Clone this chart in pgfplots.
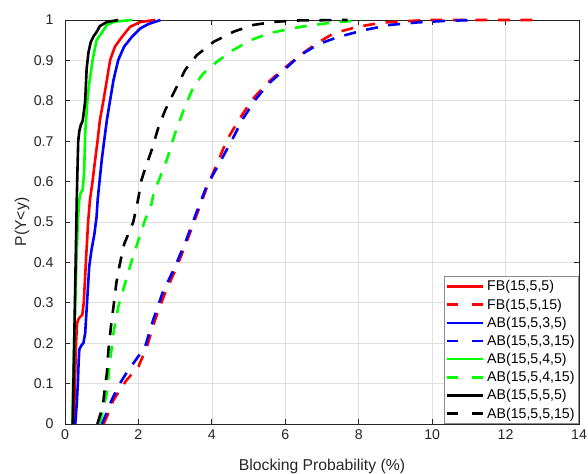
\documentclass[border=0pt]{standalone}
\usepackage{fontspec}
\setmainfont{Liberation Sans}
\usepackage{pgfplots}
\pgfplotsset{compat=1.18}
\definecolor{axgray}{HTML}{262626}
\definecolor{gridgray}{HTML}{DFDFDF}
\pgfplotsset{
  dleg/.style={legend image code/.code={\draw[##1,solid] (0bp,0bp)--(11bp,0bp); \draw[##1,solid] (25bp,0bp)--(36bp,0bp);}},
  sl/.style={line width=2.6bp, solid},
  dl/.style={line width=2.6bp, dash pattern=on 12bp off 10.5bp, dleg},
}
\begin{document}
\begin{tikzpicture}
\useasboundingbox (-65bp,-50bp) rectangle (523bp,424bp);
\begin{axis}[
  at={(0,0)}, anchor=south west,
  scale only axis, width=514bp, height=404bp,
  xmin=0, xmax=14, ymin=0, ymax=1,
  xtick={0,2,4,6,8,10,12,14},
  ytick={0,0.1,0.2,0.3,0.4,0.5,0.6,0.7,0.8,0.9,1},
  yticklabels={0,0.1,0.2,0.3,0.4,0.5,0.6,0.7,0.8,0.9,1},
  /pgf/number format/assume math mode=true,
  clip=false,
  grid=major,
  major grid style={draw=gridgray, line width=0.7bp},
  axis line style={draw=axgray, line width=0.8bp},
  tick align=inside,
  major tick length=5bp,
  tick style={draw=axgray, line width=0.8bp},
  ticklabel style={font=\fontsize{14.2}{16}\selectfont, text=axgray},
  xticklabel style={yshift=-2.3bp},
  yticklabel style={xshift=-8bp},
  every axis x label/.style={at={(rel axis cs:0.5,0)}, yshift=-42bp, anchor=center},
  every axis y label/.style={at={(rel axis cs:0,0.5)}, xshift=-43bp, rotate=90, anchor=center},
  label style={font=\fontsize{15.8}{18}\selectfont, text=axgray},
  xlabel={Blocking Probability (\%)},
  ylabel={P(Y<y)},
  legend style={at={(1,0)}, anchor=south east, draw=black!45, line width=0.6bp, fill=white,
    inner sep=1bp, font=\fontsize{14.2}{16}\selectfont, nodes={inner sep=3.2bp},
    cells={anchor=west}, row sep=0pt},
  legend image code/.code={\draw[#1] (0bp,0bp) -- (36bp,0bp);},
]
% FB(15,5,5)
\addplot[red, sl] coordinates {
(0.24,0) (0.27,0.1) (0.30,0.2) (0.33,0.25) (0.38,0.262) (0.47,0.27) (0.51,0.30) (0.54,0.35) (0.58,0.42) (0.63,0.50) (0.68,0.555) (0.75,0.60) (0.82,0.653) (0.89,0.703) (0.95,0.752) (1.05,0.802) (1.14,0.851) (1.23,0.901) (1.36,0.934) (1.55,0.958) (1.77,0.983) (2.05,0.995) (2.45,1)
};
\addlegendentry{FB(15,5,5)}
% FB(15,5,15)
\addplot[red, dl] coordinates {
(1.05,0) (1.15,0.02) (1.32,0.059) (1.50,0.085) (1.68,0.109) (2.0,0.142) (2.23,0.191) (2.45,0.257) (2.72,0.323) (3.05,0.39) (3.33,0.455) (3.6,0.521) (3.87,0.587) (4.18,0.653) (4.41,0.703) (4.73,0.752) (5.09,0.802) (5.5,0.843) (5.91,0.876) (6.41,0.913) (6.85,0.942) (7.32,0.967) (7.96,0.983) (8.6,0.993) (9.22,0.997) (9.96,1.0) (12.73,1.0)
};
\addlegendentry{FB(15,5,15)}
% AB(15,5,3,5)
\addplot[blue, sl] coordinates {
(0.28,0) (0.32,0.05) (0.35,0.1) (0.37,0.15) (0.39,0.185) (0.45,0.195) (0.50,0.20) (0.55,0.225) (0.60,0.30) (0.64,0.36) (0.66,0.39) (0.72,0.43) (0.80,0.47) (0.86,0.513) (0.89,0.555) (0.94,0.60) (1.0,0.653) (1.07,0.703) (1.14,0.752) (1.23,0.802) (1.32,0.851) (1.45,0.901) (1.61,0.934) (1.82,0.958) (2.05,0.979) (2.27,0.99) (2.6,1)
};
\addlegendentry{AB(15,5,3,5)}
% AB(15,5,3,15)
\addplot[blue, dl] coordinates {
(1.0,0) (1.1,0.02) (1.27,0.059) (1.5,0.101) (1.7,0.13) (1.86,0.15) (2.18,0.191) (2.4,0.257) (2.65,0.323) (3.0,0.39) (3.3,0.455) (3.57,0.521) (3.85,0.587) (4.25,0.653) (4.55,0.703) (4.82,0.752) (5.18,0.802) (5.55,0.843) (5.96,0.876) (6.41,0.913) (6.9,0.94) (7.41,0.957) (8.14,0.975) (8.87,0.988) (9.6,0.994) (10.4,0.998) (11.2,1)
};
\addlegendentry{AB(15,5,3,15)}
% AB(15,5,4,5)
\addplot[green, sl] coordinates {
(0.20,0) (0.22,0.1) (0.25,0.2) (0.28,0.3) (0.31,0.4) (0.35,0.5) (0.39,0.555) (0.42,0.57) (0.48,0.58) (0.52,0.62) (0.55,0.72) (0.61,0.80) (0.66,0.843) (0.75,0.90) (0.86,0.95) (1.05,0.975) (1.14,0.988) (1.36,0.996) (1.82,1)
};
\addlegendentry{AB(15,5,4,5)}
% AB(15,5,4,15)
\addplot[green, dl] coordinates {
(0.93,0) (1.0,0.02) (1.07,0.05) (1.14,0.076) (1.21,0.142) (1.32,0.225) (1.45,0.29) (1.61,0.34) (1.77,0.39) (1.97,0.447) (2.18,0.505) (2.36,0.546) (2.41,0.57) (2.77,0.653) (3.0,0.72) (3.23,0.777) (3.5,0.835) (3.77,0.868) (4.14,0.897) (4.59,0.926) (5.05,0.95) (5.59,0.968) (6.41,0.983) (7.23,0.993) (8.1,1)
};
\addlegendentry{AB(15,5,4,15)}
% AB(15,5,5,5)
\addplot[black, sl] coordinates {
(0.21,0) (0.23,0.1) (0.25,0.2) (0.27,0.3) (0.29,0.4) (0.31,0.5) (0.32,0.555) (0.34,0.63) (0.36,0.70) (0.39,0.725) (0.43,0.74) (0.48,0.75) (0.51,0.77) (0.55,0.80) (0.57,0.84) (0.59,0.88) (0.64,0.92) (0.70,0.945) (0.78,0.96) (0.86,0.97) (0.95,0.985) (1.14,0.995) (1.45,1)
};
\addlegendentry{AB(15,5,5,5)}
% AB(15,5,5,15)
\addplot[black, dl] coordinates {
(0.88,0) (0.95,0.02) (1.02,0.04) (1.05,0.06) (1.10,0.10) (1.14,0.125) (1.18,0.18) (1.25,0.24) (1.32,0.29) (1.40,0.35) (1.48,0.39) (1.61,0.445) (1.86,0.50) (2.0,0.56) (2.07,0.60) (2.14,0.62) (2.36,0.678) (2.55,0.736) (2.73,0.777) (3.0,0.827) (3.27,0.876) (3.59,0.913) (4.05,0.946) (4.59,0.971) (5.14,0.988) (5.78,0.996) (6.4,0.999) (7.7,1)
};
\addlegendentry{AB(15,5,5,15)}
\end{axis}
\end{tikzpicture}
\end{document}
